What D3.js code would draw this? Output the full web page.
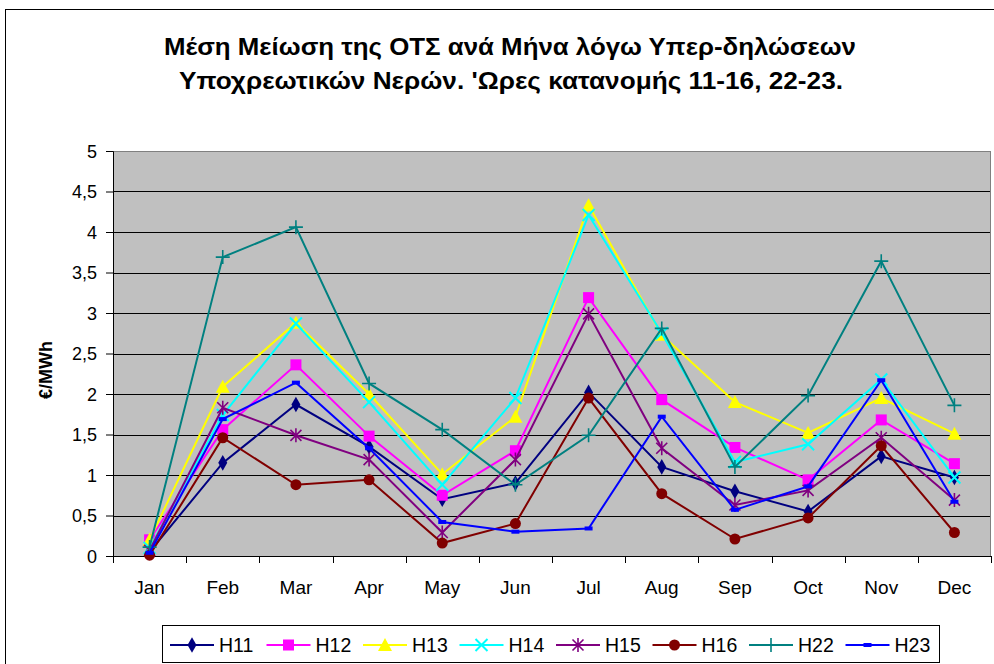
<!DOCTYPE html>
<html>
<head>
<meta charset="utf-8">
<script src="https://cdn.jsdelivr.net/npm/d3@7/dist/d3.min.js"></script>
<style>
  body { margin: 0; background: #fff; }
  svg { font-family: "Liberation Sans", Arial, sans-serif; }
  .grid line { stroke: #000; stroke-width: 1; }
  .axis path, .axis line { stroke: #000; }
  .axis text { font-size: 18px; fill: #000; }
  .axis.x text { font-size: 19px; }
</style>
</head>
<body>
<div id="chart"></div>
<script>
// values (EUR/MWh)
var months = ["Jan", "Feb", "Mar", "Apr", "May", "Jun", "Jul", "Aug", "Sep", "Oct", "Nov", "Dec"];
var yTicks = [0, 0.5, 1, 1.5, 2, 2.5, 3, 3.5, 4, 4.5, 5];
var seriesNames = ["H11", "H12", "H13", "H14", "H15", "H16", "H22", "H23"];

var h11 = [0.05, 1.15, 1.87, 1.35, 0.70, 0.90, 2.02, 1.10, 0.80, 0.55, 1.23, 0.97];
var h12 = [0.20, 1.56, 2.36, 1.48, 0.75, 1.30, 3.19, 1.93, 1.34, 0.94, 1.68, 1.14];
var h13 = [0.20, 2.09, 2.88, 2.00, 1.01, 1.72, 4.33, 2.73, 1.90, 1.52, 1.95, 1.51];
var h14 = [0.10, 1.74, 2.87, 1.90, 0.88, 1.95, 4.21, 2.75, 1.16, 1.38, 2.18, 0.97];
var h15 = [0.07, 1.83, 1.49, 1.19, 0.29, 1.19, 2.99, 1.33, 0.63, 0.81, 1.46, 0.69];
var h16 = [0.01, 1.46, 0.88, 0.94, 0.16, 0.40, 1.95, 0.77, 0.21, 0.47, 1.36, 0.29];
var h22 = [0.11, 3.69, 4.06, 2.13, 1.56, 0.88, 1.49, 2.81, 1.10, 1.98, 3.64, 1.86];
var h23 = [0.04, 1.69, 2.14, 1.33, 0.42, 0.30, 0.34, 1.72, 0.57, 0.86, 2.17, 0.67];

var seriesValues = [h11, h12, h13, h14, h15, h16, h22, h23];
var colors = ["#000080", "#ff00ff", "#ffff00", "#00ffff", "#800080", "#800000", "#008080", "#0000ff"];
var markers = ["diamond", "square", "triangle", "x", "star", "circle", "plus", "dash"];

var W = 994, H = 664;
var margin = {left: 113, top: 151, right: 3, bottom: 108};
var innerW = W - margin.left - margin.right;
var innerH = H - margin.top - margin.bottom;

var svg = d3.select("#chart").append("svg")
    .attr("width", W)
    .attr("height", H);

// outer chart border (runs off the picture on the right/bottom)
svg.append("rect")
    .attr("x", 5.5).attr("y", 9.5)
    .attr("width", 1000).attr("height", 700)
    .attr("fill", "#fff").attr("stroke", "#000");

// title, fitted to the width it has in the original
var title = svg.append("g")
    .attr("text-anchor", "middle")
    .style("font-size", "23.5px")
    .style("font-weight", "bold");
title.append("text").attr("x", 510).attr("y", 55)
    .attr("textLength", 692).attr("lengthAdjust", "spacingAndGlyphs")
    .text("Μέση Μείωση της ΟΤΣ ανά Μήνα λόγω Υπερ-δηλώσεων");
title.append("text").attr("x", 511).attr("y", 89)
    .attr("textLength", 664).attr("lengthAdjust", "spacingAndGlyphs")
    .text("Υποχρεωτικών Νερών. 'Ωρες κατανομής 11-16, 22-23.");

var x = d3.scaleBand().domain(months).range([0, innerW]);
var y = d3.scaleLinear().domain([0, 5]).range([innerH, 0]);

var g = svg.append("g").attr("transform", "translate(" + margin.left + "," + margin.top + ")");

// plot area
g.append("rect")
    .attr("width", innerW).attr("height", innerH)
    .attr("fill", "#c0c0c0");

// gridlines
g.append("g").attr("class", "grid")
    .selectAll("line")
    .data(yTicks.filter(function (d) { return d > 0 && d < 5; }))
    .enter().append("line")
    .attr("x1", 0).attr("x2", innerW)
    .attr("y1", function (d) { return Math.round(y(d)) + 0.5; })
    .attr("y2", function (d) { return Math.round(y(d)) + 0.5; });

g.append("rect")
    .attr("x", 0.5).attr("y", 0.5)
    .attr("width", innerW - 1).attr("height", innerH)
    .attr("fill", "none").attr("stroke", "#808080");

// y axis
var yAxis = d3.axisLeft(y).tickValues(yTicks).tickSizeOuter(0).tickSize(7).tickPadding(9)
    .tickFormat(function (d) { return String(d).replace(".", ","); });
g.append("g").attr("class", "axis y")
    .call(yAxis)
    .call(function (s) { s.selectAll(".tick text").attr("dy", "0.35em"); });

// x axis with ticks between categories
var xAxis = d3.axisBottom(x).tickSize(0).tickPadding(25).tickSizeOuter(0);
var gx = g.append("g").attr("class", "axis x")
    .attr("transform", "translate(0," + innerH + ")")
    .call(xAxis);
gx.select(".domain").attr("stroke", "#000");
gx.selectAll(".between")
    .data(d3.range(months.length + 1))
    .enter().append("line")
    .attr("class", "between")
    .attr("x1", function (i) { return Math.round(i * x.step()) + 0.5; })
    .attr("x2", function (i) { return Math.round(i * x.step()) + 0.5; })
    .attr("y1", 0).attr("y2", 7)
    .attr("stroke", "#000");

// y label
svg.append("text")
    .attr("transform", "translate(52,370) rotate(-90)")
    .attr("text-anchor", "middle")
    .style("font-size", "18px")
    .style("font-weight", "bold")
    .text("€/MWh");

function drawMarker(sel, type, color) {
    if (type === "diamond") {
        sel.append("path").attr("d", d3.symbol(d3.symbolDiamond, 70)()).attr("fill", color);
    } else if (type === "square") {
        sel.append("rect").attr("x", -5.5).attr("y", -5.5).attr("width", 11).attr("height", 11).attr("fill", color);
    } else if (type === "triangle") {
        sel.append("path").attr("d", "M0,-7L7,6L-7,6Z").attr("fill", color);
    } else if (type === "x") {
        sel.append("path").attr("d", "M-6,-6L6,6M-6,6L6,-6").attr("stroke", color).attr("stroke-width", 2).attr("fill", "none");
    } else if (type === "star") {
        sel.append("path").attr("d", "M-5.5,-5.5L5.5,5.5M-5.5,5.5L5.5,-5.5M0,-7L0,7").attr("stroke", color).attr("stroke-width", 1.6).attr("fill", "none");
    } else if (type === "circle") {
        sel.append("circle").attr("r", 5.5).attr("fill", color);
    } else if (type === "plus") {
        sel.append("path").attr("d", "M-7,0L7,0M0,-7L0,7").attr("stroke", color).attr("stroke-width", 1.6).attr("fill", "none");
    } else if (type === "dash") {
        sel.append("rect").attr("x", -4).attr("y", -2).attr("width", 8).attr("height", 4).attr("fill", color);
    }
}

var line = d3.line()
    .x(function (d, i) { return x(months[i]) + x.bandwidth() / 2; })
    .y(function (d) { return y(d); });

seriesValues.forEach(function (vals, si) {
    var sg = g.append("g").attr("class", "series " + seriesNames[si]);
    sg.append("path")
        .attr("d", line(vals))
        .attr("fill", "none")
        .attr("stroke", colors[si])
        .attr("stroke-width", 2);
    sg.selectAll(".pt")
        .data(vals)
        .enter().append("g")
        .attr("class", "pt")
        .attr("transform", function (d, i) {
            return "translate(" + (x(months[i]) + x.bandwidth() / 2) + "," + y(d) + ")";
        })
        .each(function () { drawMarker(d3.select(this), markers[si], colors[si]); });
});

// legend
var legend = svg.append("g").attr("class", "legend");
legend.append("rect")
    .attr("x", 162.5).attr("y", 625.5)
    .attr("width", 777).attr("height", 37)
    .attr("fill", "#fff").attr("stroke", "#000");

var items = legend.selectAll(".item")
    .data(seriesNames)
    .enter().append("g")
    .attr("class", "item")
    .attr("transform", function (d, i) { return "translate(" + (170 + i * 96.5) + ",645)"; });

items.append("line")
    .attr("x1", 0).attr("x2", 44)
    .attr("stroke", function (d, i) { return colors[i]; })
    .attr("stroke-width", 2);
items.each(function (d, i) {
    var m = d3.select(this).append("g").attr("transform", "translate(22,0)");
    drawMarker(m, markers[i], colors[i]);
});
items.append("text")
    .attr("x", 49).attr("y", 7)
    .style("font-size", "19.5px")
    .text(function (d) { return d; });
</script>
</body>
</html>
